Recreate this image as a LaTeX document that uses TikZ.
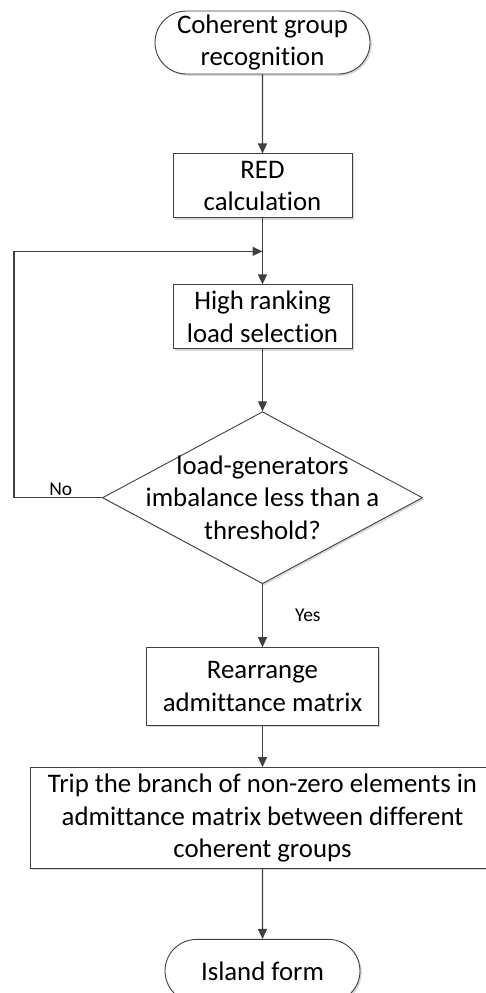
\documentclass[tikz,border=0pt]{standalone}
\usepackage{fontspec}
\setmainfont{Carlito}[Ligatures=CommonOff]
\usetikzlibrary{positioning, arrows.meta, shapes.geometric, shapes.misc, shadows, calc}
\definecolor{linegray}{HTML}{404040}

\begin{document}
\begin{tikzpicture}[
  x=1pt, y=1pt,
  font=\fontsize{26.8}{32.5}\selectfont,
  shadowed/.style={drop shadow={shadow xshift=1.8pt, shadow yshift=-1.8pt, fill=black!30, opacity=0.5}},
  box/.style={draw=linegray, line width=0.9pt, fill=white, shadowed, minimum width=179pt, minimum height=64pt, inner sep=2pt, align=center},
  term/.style={rounded rectangle, draw=linegray, line width=0.9pt, fill=white, shadowed, minimum height=63pt, inner sep=2pt, align=center},
  decision/.style={diamond, draw=linegray, line width=0.9pt, fill=white, shadowed, minimum width=320pt, minimum height=172pt, inner sep=0pt},
  arrow/.style={-{Triangle[length=10pt, width=9pt]}, line width=1.3pt, draw=linegray},
  answer/.style={font=\fontsize{19.5}{23}\selectfont, inner sep=1pt}
]
\useasboundingbox (0,0) rectangle (485,-993);

% Main column
\node[term, minimum width=219pt] (start) at (262.5,-42.5) {Coherent group\\recognition};
\node[box, below=79pt of start] (red) {RED\\calculation};
\node[box, below=66pt of red] (rank) {High ranking\\load selection};
\node[decision, below=62pt of rank,
  label={[align=center]center:{load-generators\\imbalance less than a\\threshold?}}] (check) {};
\node[box, minimum width=232pt, minimum height=78pt, below=63pt of check] (rearrange) {Rearrange\\admittance matrix};
\node[box, minimum width=464pt, minimum height=101pt, below=41pt of rearrange] (trip) {Trip the branch of non-zero elements in\\admittance matrix between different\\coherent groups};
\node[term, minimum width=199pt, below=70pt of trip] (island) {Island form};

% Connections
\draw[arrow] (start) -- (red);
\draw[arrow] (red) -- (rank);
\draw[arrow] (rank) -- (check);
\draw[arrow] (check) -- node[answer, right=31pt] {Yes} (rearrange);
\draw[arrow] (rearrange) -- (trip);
\draw[arrow] (trip) -- (island);

% Loop back for No
\coordinate (join) at ($(red.south)!0.5!(rank.north)$);
\draw[arrow] (check.west) -- node[answer, above, pos=0.47] {No} ++(-88pt,0) |- (join);

\end{tikzpicture}
\end{document}
